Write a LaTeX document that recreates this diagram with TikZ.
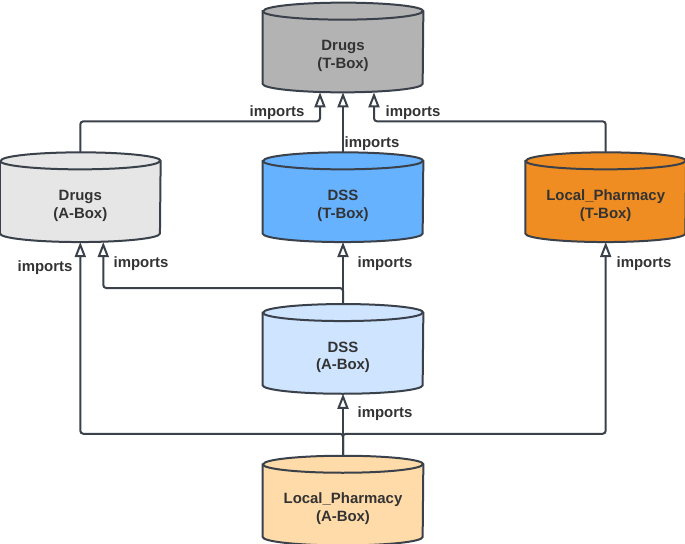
\documentclass[tikz,border=0pt]{standalone}
\usepackage{fontspec}
\setmainfont{Liberation Sans}
\usetikzlibrary{arrows.meta}
\usetikzlibrary{positioning}
\usetikzlibrary{backgrounds}

\definecolor{linegray}{HTML}{3A414A}
\definecolor{txtgray}{HTML}{333333}
\definecolor{tboxgray}{HTML}{B3B3B3}
\definecolor{aboxgray}{HTML}{E6E6E6}
\definecolor{tboxblue}{HTML}{66B2FF}
\definecolor{aboxblue}{HTML}{CFE4FF}
\definecolor{tboxorange}{HTML}{EF8D22}
\definecolor{aboxorange}{HTML}{FFDBA9}

% two lines of a store, set a bit below its middle
\newcommand{\boxtext}[2]{\raisebox{-0.17cm}[\height][\depth]{%
  \begin{tabular}{@{}c@{}}#1\\(#2)\end{tabular}}}

\tikzset{
  store/.style={rectangle, minimum width=3.2cm, minimum height=1.78cm,
    inner sep=0pt, text=txtgray,
    font=\fontsize{8.5}{10.2}\selectfont\bfseries},
  can/.style={draw=linegray, line width=0.04cm},
  imp/.style={draw=linegray, line width=0.04cm, rounded corners=0.06cm,
    -{Triangle[open, fill=white, length=0.3cm, width=0.22cm]}},
  lbl/.style={text=txtgray, inner sep=0pt,
    font=\fontsize{8.5}{10.2}\selectfont\bfseries},
}

\begin{document}
\begin{tikzpicture}
    \useasboundingbox (0,0) rectangle (13.7,10.88);

    % ontologies
    \node [store] (drugsT) at (6.86,9.93) {\boxtext{Drugs}{T-Box}};
    \node [store, below=1.2cm of drugsT] (dssT) {\boxtext{DSS}{T-Box}};
    \node [store, left=2.04cm of dssT] (drugsA) {\boxtext{Drugs}{A-Box}};
    \node [store, right=2.04cm of dssT] (lpT) {\boxtext{Local\_Pharmacy}{T-Box}};
    \node [store, below=1.24cm of dssT] (dssA) {\boxtext{DSS}{A-Box}};
    \node [store, below=1.24cm of dssA] (lpA) {\boxtext{Local\_Pharmacy}{A-Box}};

    % the cans behind the texts
    \begin{scope}[on background layer]
      \foreach \n/\c in {drugsT/tboxgray, dssT/tboxblue, drugsA/aboxgray,
                         lpT/tboxorange, dssA/aboxblue, lpA/aboxorange}{
        \draw [can, fill=\c] ([yshift=-0.17cm]\n.north west) -- ([yshift=0.17cm]\n.south west)
          arc [start angle=180, end angle=360, x radius=1.6cm, y radius=0.17cm]
          -- ([yshift=-0.17cm]\n.north east)
          arc [start angle=0, end angle=180, x radius=1.6cm, y radius=0.17cm] -- cycle;
        \draw [can] ([yshift=-0.17cm]\n.north west)
          arc [start angle=180, end angle=360, x radius=1.6cm, y radius=0.17cm];
      }
    \end{scope}

    % imports
    \draw [imp] (drugsA.north) -- ++(0,0.62) -| ([xshift=-0.46cm]drugsT.south);
    \draw [imp] (dssT.north) -- (drugsT.south);
    \draw [imp] (lpT.north) -- ++(0,0.62) -| ([xshift=0.62cm]drugsT.south);
    \draw [imp] (dssA.north) -- (dssT.south);
    \draw [imp] (dssA.north) -- ++(0,0.32) -| ([xshift=0.46cm]drugsA.south);
    \draw [imp] (lpA.north) -- (dssA.south);
    \draw [imp] (lpA.north) -- ++(0,0.44) -| (drugsA.south);
    \draw [imp] (lpA.north) -- ++(0,0.44) -| (lpT.south);

    \node [lbl] (l1) at (5.54,8.63) {imports};
    \node [lbl] (l2) at (7.44,8.01) {imports};
    \node [lbl] (l3) at (8.26,8.63) {imports};
    \node [lbl] (l4) at (7.70,5.61) {imports};
    \node [lbl] (l5) at (2.82,5.61) {imports};
    \node [lbl] (l6) at (7.70,2.61) {imports};
    \node [lbl] (l7) at (0.90,5.53) {imports};
    \node [lbl] (l8) at (12.88,5.61) {imports};
\end{tikzpicture}
\end{document}
